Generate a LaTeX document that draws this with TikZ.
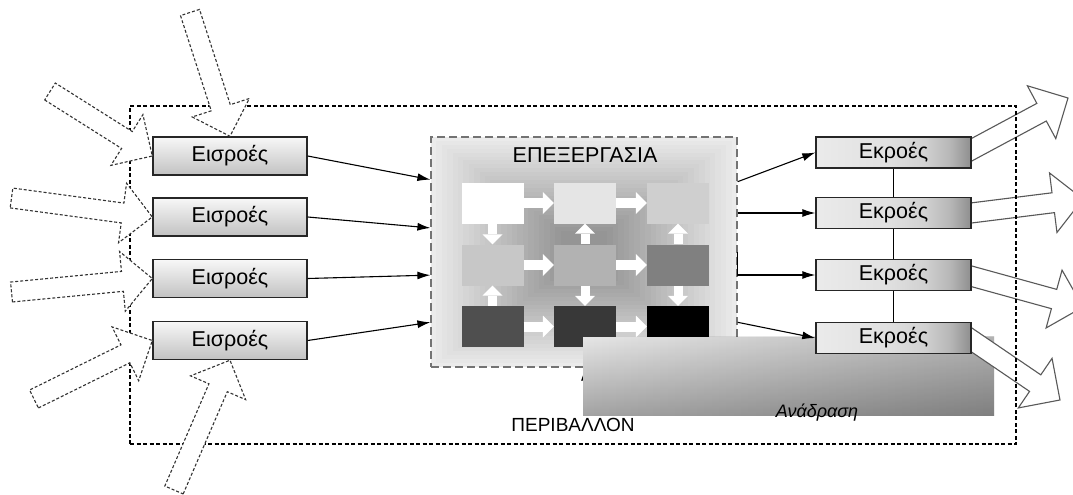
\documentclass[tikz,border=0pt]{standalone}
\usepackage{fontspec}
\setmainfont{Liberation Sans}
\usetikzlibrary{arrows.meta,calc}

% horizontal shading of the output boxes: light on the left, darker towards the right end
\pgfdeclarehorizontalshading{outshade}{100bp}{color(0bp)=(black!8); color(25bp)=(black!8); color(48bp)=(black!12); color(60bp)=(black!18); color(68bp)=(black!28); color(75bp)=(black!44); color(100bp)=(black!44)}

% wide hollow arrow from a tail point to a tip point
\newcommand\hollowarrow[3]{%
  \path (#2) coordinate (ha-tail) (#3) coordinate (ha-tip);
  \pgfpointdiff{\pgfpointanchor{ha-tail}{center}}{\pgfpointanchor{ha-tip}{center}}%
  \pgfgetlastxy{\hadx}{\hady}%
  \pgfmathsetmacro\haang{atan2(\hady,\hadx)}%
  \pgfmathsetmacro\halen{veclen(\hadx,\hady)}%
  \pgfmathsetmacro\hab{\halen-30}%
  \draw[#1, shift={(ha-tail)}, rotate=\haang]
    (0pt,-10pt) -- (\hab pt,-10pt) -- (\hab pt,-30pt) -- (\halen pt,0pt)
    -- (\hab pt,30pt) -- (\hab pt,10pt) -- (0pt,10pt) -- cycle;
}

\begin{document}
\begin{tikzpicture}[x=1pt,y=-1pt,
  txt/.style={font=\fontsize{21.5}{24}\selectfont},
  inbox/.style={draw=black!85, line width=1.4pt, minimum width=154pt, minimum height=38pt, inner sep=0pt, top color=black!3, bottom color=black!24, txt},
  outbox/.style={draw=black!85, line width=1.4pt, minimum width=155pt, minimum height=31pt, inner sep=0pt, shade, shading=outshade, txt},
  sq/.style={minimum width=62pt, minimum height=41pt, inner sep=0pt},
  flow/.style={line width=1.1pt, -{Latex[length=13pt,width=8pt]}},
  garrowh/.style={draw=white, line width=10pt, -{Triangle[width=22pt,length=11pt,line width=0pt]}},
  garrowv/.style={draw=white, line width=9pt, -{Triangle[width=20pt,length=10pt,line width=0pt]}},
  inarrow/.style={draw=black!80, line width=1.1pt, dash pattern=on 3pt off 2pt, fill=white, line join=miter},
  outarrow/.style={draw=black!65, line width=1.1pt, fill=white, line join=miter},
]
\clip (0,0) rectangle (1073,495);
\fill[white] (0,0) rectangle (1073,495);

% processing block: concentric grey fill
\foreach \i in {0,...,24}{
  \pgfmathsetmacro\pk{8+\i*1.4}
  \pgfmathsetmacro\ix{\i*5.4}
  \pgfmathsetmacro\iy{\i*3.9}
  \fill[black!\pk] (431+\ix,137+\iy) rectangle (737-\ix,367-\iy);
}
\node[draw=black!55, dash pattern=on 8pt off 4pt, line width=1.2pt, minimum width=306pt, minimum height=230pt, inner sep=0pt] (proc) at (584,252) {};
\node[txt] (ptitle) at (585,155) {ΕΠΕΞΕΡΓΑΣΙΑ};

\node[sq, fill=white]    (s11) at (492.5,203) {};
\node[sq, fill=black!10] (s12) at (585,203) {};
\node[sq, fill=black!19] (s13) at (678,203) {};
\node[sq, fill=black!22] (s21) at (492.5,265) {};
\node[sq, fill=black!30] (s22) at (585,265) {};
\node[sq, fill=black!50] (s23) at (678,265) {};
\node[sq, fill=black!69] (s31) at (492.5,326.5) {};
\node[sq, fill=black!78] (s32) at (585,326.5) {};
\node[sq, fill=black]    (s33) at (678,326.5) {};

\draw[garrowh] (s11.east) -- (s12.west);
\draw[garrowh] (s12.east) -- (s13.west);
\draw[garrowh] (s21.east) -- (s22.west);
\draw[garrowh] (s22.east) -- (s23.west);
\draw[garrowh] (s31.east) -- (s32.west);
\draw[garrowh] (s32.east) -- (s33.west);
\draw[garrowv] (s11.south) -- (s21.north);
\draw[garrowv] (s22.north) -- (s12.south);
\draw[garrowv] (s23.north) -- (s13.south);
\draw[garrowv] (s31.north) -- (s21.south);
\draw[garrowv] (s22.south) -- (s32.north);
\draw[garrowv] (s23.south) -- (s33.north);

% feedback
\coordinate (fbtail) at (585,400);
\draw[flow] (fbtail) -- (fbtail |- proc.south);
\node[minimum width=411pt, minimum height=78pt, inner sep=0pt, top color=black!10, bottom color=black!36] (fb) at (788.5,376) {};
\shade[left color=white, right color=black!22, blend mode=multiply] (fb.north west) rectangle (fb.south east);
\node[font=\itshape\fontsize{18}{20}\selectfont] (fblabel) at (817,413) {Ανάδραση};

% outgoing wide arrows
\hollowarrow{outarrow}{960,156}{1068,98}
\hollowarrow{outarrow}{955,215}{1083,199}
\hollowarrow{outarrow}{956,272}{1083,307}
\hollowarrow{outarrow}{960,332}{1060,400}

% input and output boxes
\node[inbox] (in1) at (230,156) {Εισροές};
\node[inbox] (in2) at (230,217) {Εισροές};
\node[inbox] (in3) at (230,278.5) {Εισροές};
\node[inbox] (in4) at (230,340.5) {Εισροές};

\node[outbox] (out1) at (893.5,152.5) {Εκροές};
\node[outbox] (out2) at (893.5,213) {Εκροές};
\node[outbox] (out3) at (893.5,275) {Εκροές};
\node[outbox] (out4) at (893.5,338) {Εκροές};

% connectors
\draw[flow] (in1.east) -- ($(proc.north west)!0.187!(proc.south west)$);
\draw[flow] (in2.east) -- ($(proc.north west)!0.396!(proc.south west)$);
\draw[flow] (in3.east) -- ($(proc.north west)!0.6!(proc.south west)$);
\draw[flow] (in4.east) -- ($(proc.north west)!0.804!(proc.south west)$);

\draw[line width=1.1pt] (out1.south) -- (out2.north) (out2.south) -- (out3.north) (out3.south) -- (out4.north);
\draw[flow] ($(proc.north east)!0.196!(proc.south east)$) -- (out1.west);
\draw[flow] (proc.east |- out2.west) -- (out2.west);
\draw[flow] ($(proc.north east)!0.5!(proc.south east)$) |- (out3.west);
\draw[flow] ($(proc.north east)!0.804!(proc.south east)$) -- (out4.west);

% environment frame
\node[draw=black, line width=1.3pt, dash pattern=on 4pt off 2.5pt, minimum width=886pt, minimum height=338pt, inner sep=0pt] (env) at (573,275) {};
\node[font=\fontsize{19}{22}\selectfont] (envlabel) at (573,425) {ΠΕΡΙΒΑΛΛΟΝ};

% incoming wide arrows
\hollowarrow{inarrow}{190,12.5}{in1.north}
\hollowarrow{inarrow}{50,91.5}{in1.west}
\hollowarrow{inarrow}{11.5,198}{in2.west}
\hollowarrow{inarrow}{11.5,292}{in3.west}
\hollowarrow{inarrow}{34,399}{in4.west}
\hollowarrow{inarrow}{174,490}{in4.south}
\end{tikzpicture}
\end{document}
